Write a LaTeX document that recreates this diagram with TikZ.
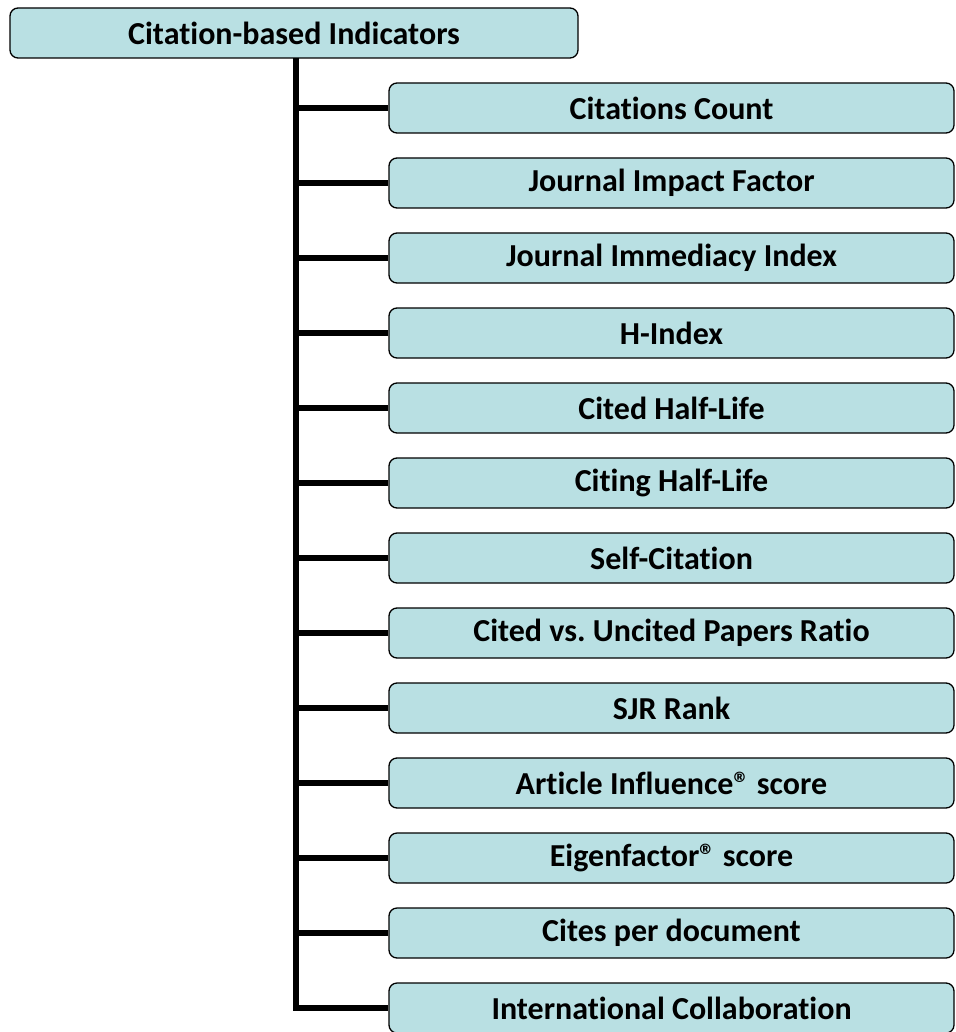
\documentclass[tikz,border=0pt]{standalone}
\usepackage{fontspec}
\setmainfont{Carlito}[Ligatures=NoCommon,RawFeature={-liga;-clig;-dlig}]
\frenchspacing
\definecolor{boxfill}{HTML}{B9E0E3}
\newcommand{\regmark}{®}
\begin{document}
\begin{tikzpicture}[x=1pt,y=-1pt,
  itembox/.style={draw=black,line width=1.3pt,fill=boxfill,rounded corners=8pt,
    minimum width=565pt,minimum height=50pt,inner sep=0pt,font=\fontsize{32}{38}\selectfont\bfseries,anchor=center},
  rootbox/.style={itembox,minimum width=568pt},
  trunk/.style={line width=5.5pt,black}]
\useasboundingbox (0,0) rectangle (955,1032);
\node[rootbox] (root) at (294,33) {Citation-based Indicators};
\foreach \t [count=\i] in {Citations Count,Journal Impact Factor,Journal Immediacy Index,H-Index,Cited Half-Life,Citing Half-Life,Self-Citation,Cited vs. Uncited Papers Ratio,SJR Rank,Article Influence\regmark{} score,Eigenfactor\regmark{} score,Cites per document,International Collaboration}{
  \node[itembox] (c\i) at (671.5,{108+75*(\i-1)}) {\t};
}
\coordinate (tt) at (296,58);
\foreach \i in {1,...,12}{
  \draw[trunk] (c\i.west) -- (c\i.west -| tt);
}
\draw[trunk,line join=miter] (tt) -- (tt |- c13.west) -- (c13.west);
\end{tikzpicture}
\end{document}
